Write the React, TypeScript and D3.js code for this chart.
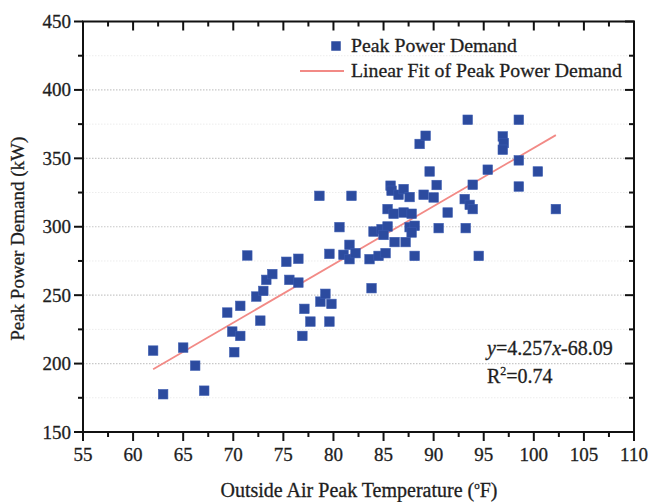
import React from "react";
import * as d3 from "d3";

const temperature = [
  62.0, 63.0, 65.0, 66.2, 67.1, 69.4, 69.9, 70.1, 70.7, 70.7, 71.4, 72.3, 72.7, 73.0, 73.3, 73.9,
  75.3, 75.6, 76.5, 76.5, 76.9, 77.1, 77.7, 78.6, 78.7, 79.2, 79.6, 79.8, 79.6, 80.6, 81.0, 81.6,
  81.6, 81.8, 82.2, 83.8, 83.6, 84.5, 85.2, 84.0, 84.8, 85.4, 85.0, 86.1, 87.2, 88.1, 85.4, 86.0,
  87.0, 87.8, 87.6, 88.1, 87.8, 85.7, 85.8, 86.5, 87.0, 87.6, 88.6, 89.2, 89.6, 90.3, 89.0, 90.0,
  90.5, 91.4, 93.4, 93.1, 93.6, 93.9, 93.2, 93.9, 94.5, 95.4, 96.9, 97.0, 96.9, 98.5, 98.5, 98.5,
  100.4, 102.2,
];
const demand = [
  209.5, 177.6, 211.7, 198.5, 180.2, 237.3, 223.4, 208.3, 242.2, 220.2, 279, 249, 231.4, 253.1, 261.2, 265.4,
  274.4, 261.2, 276.6, 259.2, 220.2, 240, 230.7, 322.6, 245.3, 251, 230.7, 243.6, 280.2, 299.7, 279.5, 286.8,
  276.3, 322.6, 280.7, 255.1, 276.3, 278.7, 280.7, 296.5, 298.2, 300.2, 294, 288.8, 288.8, 278.7, 312.9, 309.5,
  310.4, 309.5, 299.7, 300.7, 295.8, 330, 326.3, 323.4, 327.5, 321.7, 360.5, 366.5, 340.4, 330.5, 323.4, 321.4,
  299, 310.4, 378.2, 320.2, 316, 312.9, 299, 330.7, 278.7, 341.7, 366, 361.2, 356.3, 378.2, 348.5, 329.4,
  340.4, 312.9,
];
const fitSlope = 4.257;
const fitIntercept = -68.09;
const fitRange = [62.0, 102.2];
const xTicks = [55, 60, 65, 70, 75, 80, 85, 90, 95, 100, 105, 110];
const yTicks = [150, 200, 250, 300, 350, 400, 450];
const legendLabels = ["Peak Power Demand", "Linear Fit of Peak Power Demand"];

const FONT = "'Liberation Serif', 'Times New Roman', serif";
const BLUE = "#2c4b9f";
const RED = "#f28a86";
const TXT = "#1e1e1e";
const TS = { stroke: TXT, strokeWidth: 0.3 };

export default function App() {
  const left = 83, right = 634, top = 21.5, bottom = 432;
  const x = d3.scaleLinear().domain([55, 110]).range([left, right]);
  const y = d3.scaleLinear().domain([150, 450]).range([bottom, top]);
  const xMinor = d3.range(57.5, 110, 5);
  const yMinor = d3.range(175, 450, 50);
  const sq = 9.5;
  const fitLine = d3.line<number>().x((t) => x(t)).y((t) => y(fitSlope * t + fitIntercept));

  return (
    <svg width={649} height={502} style={{ position: "absolute", left: 0, top: 0, background: "#fff" }} fontFamily={FONT}>
      {/* grid */}
      {yTicks.slice(1, -1).map((v) => (
        <line key={"g" + v} x1={left} x2={right} y1={y(v)} y2={y(v)} stroke="#c8c8c8" strokeWidth={1.2} strokeDasharray="1.5,1.5" />
      ))}
      {yMinor.map((v) => (
        <line key={"gm" + v} x1={left} x2={right} y1={y(v)} y2={y(v)} stroke="#ececec" strokeWidth={1} strokeDasharray="1.5,1.5" />
      ))}
      {/* fit line */}
      <path d={fitLine(fitRange) || ""} stroke={RED} strokeWidth={1.8} fill="none" />
      {/* points */}
      {temperature.map((t, i) => (
        <rect key={i} x={x(t) - sq / 2} y={y(demand[i]) - sq / 2} width={sq} height={sq} fill={BLUE} stroke="#3b5bb0" strokeWidth={0.6} />
      ))}
      {/* axes frame */}
      <rect x={left} y={top} width={right - left} height={bottom - top} fill="none" stroke="#111" strokeWidth={2} />
      {/* bottom ticks (outward) and top ticks (inward) */}
      {xTicks.map((v) => (
        <g key={"xt" + v}>
          <line x1={x(v)} x2={x(v)} y1={bottom} y2={bottom + 9} stroke="#111" strokeWidth={2} />
          <line x1={x(v)} x2={x(v)} y1={top} y2={top + 9} stroke="#111" strokeWidth={2} />
          <text x={x(v)} y={bottom + 29} textAnchor="middle" fontSize={19} fill={TXT} {...TS}>{v}</text>
        </g>
      ))}
      {xMinor.map((v) => (
        <g key={"xm" + v}>
          <line x1={x(v)} x2={x(v)} y1={bottom} y2={bottom + 5} stroke="#111" strokeWidth={2} />
          <line x1={x(v)} x2={x(v)} y1={top} y2={top + 5} stroke="#111" strokeWidth={2} />
        </g>
      ))}
      {/* left ticks (outward) and right ticks (inward) */}
      {yTicks.map((v) => (
        <g key={"yt" + v}>
          <line x1={left - 9} x2={left} y1={y(v)} y2={y(v)} stroke="#111" strokeWidth={2} />
          <line x1={right - 9} x2={right} y1={y(v)} y2={y(v)} stroke="#111" strokeWidth={2} />
          <text x={left - 12} y={y(v) + 6.5} textAnchor="end" fontSize={19} fill={TXT} {...TS}>{v}</text>
        </g>
      ))}
      {yMinor.map((v) => (
        <g key={"ym" + v}>
          <line x1={left - 5} x2={left} y1={y(v)} y2={y(v)} stroke="#111" strokeWidth={2} />
          <line x1={right - 5} x2={right} y1={y(v)} y2={y(v)} stroke="#111" strokeWidth={2} />
        </g>
      ))}
      {/* axis titles */}
      <text x={359} y={497} textAnchor="middle" fontSize={20} fill={TXT} {...TS}>
        Outside Air Peak Temperature (<tspan fontSize={11} dy={-8}>o</tspan><tspan dy={8}>F)</tspan>
      </text>
      <text transform={`translate(24, ${(top + bottom) / 2 + 12}) rotate(-90)`} textAnchor="middle" fontSize={19} fill={TXT} {...TS}>
        Peak Power Demand (kW)
      </text>
      {/* legend */}
      <rect x={336 - sq / 2} y={46 - sq / 2} width={sq} height={sq} fill={BLUE} />
      <text x={351} y={52} fontSize={19.8} fill={TXT} {...TS}>{legendLabels[0]}</text>
      <line x1={300} x2={344} y1={71} y2={71} stroke={RED} strokeWidth={1.8} />
      <text x={351} y={77} fontSize={19.8} fill={TXT} {...TS}>{legendLabels[1]}</text>
      {/* annotation */}
      <text x={487} y={355} fontSize={20} fill={TXT} {...TS}>
        <tspan fontStyle="italic">y</tspan>={fitSlope}<tspan fontStyle="italic">x</tspan>{fitIntercept}
      </text>
      <text x={487} y={383} fontSize={20} fill={TXT} {...TS}>
        R<tspan fontSize={12} dy={-8}>2</tspan><tspan dy={8}>=0.74</tspan>
      </text>
    </svg>
  );
}
